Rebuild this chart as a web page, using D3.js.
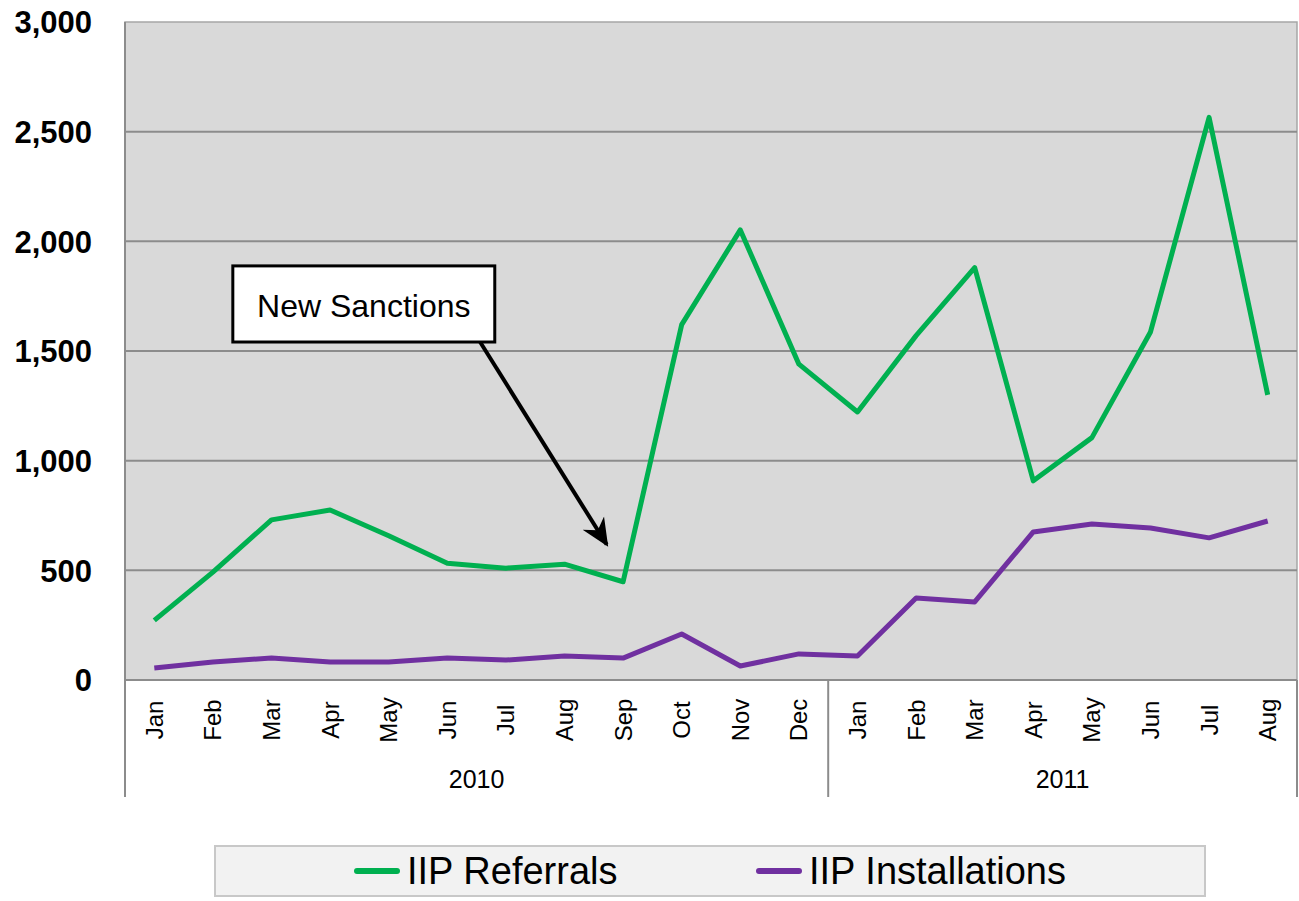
<!DOCTYPE html>
<html>
<head>
<meta charset="utf-8">
<script src="https://cdn.jsdelivr.net/npm/d3@7/dist/d3.min.js"></script>
<style>
  body { margin: 0; background: #fff; }
  svg { display: block; }
  text { font-family: "Liberation Sans", Arial, sans-serif; }
</style>
</head>
<body>
<svg id="chart" width="1299" height="901"></svg>
<script>
const months = ["Jan","Feb","Mar","Apr","May","Jun","Jul","Aug","Sep","Oct","Nov","Dec",
                "Jan","Feb","Mar","Apr","May","Jun","Jul","Aug"];
const years = [{label: "2010", start: 0, end: 11}, {label: "2011", start: 12, end: 19}];
const referrals = [272, 492, 730, 775, 658, 532, 510, 528, 448, 1620, 2052, 1440,
                   1222, 1570, 1880, 908, 1105, 1587, 2565, 1300];
const installations = [55, 82, 100, 82, 82, 100, 91, 109, 100, 210, 64, 119,
                       109, 374, 356, 675, 711, 693, 648, 725];
const yTicks = [0, 500, 1000, 1500, 2000, 2500, 3000];
const seriesNames = ["IIP Referrals", "IIP Installations"];
const seriesColors = ["#00b050", "#7030a0"];
const annotationText = "New Sanctions";

const svg = d3.select("#chart");
const L = 125, R = 1297, T = 22, B = 680;

const xi = d3.scaleLinear().domain([-0.5, months.length - 0.5]).range([L, R]);
const y = d3.scaleLinear().domain([0, 3000]).range([B, T]);

// plot background
svg.append("rect").attr("x", L).attr("y", T).attr("width", R - L).attr("height", B - T)
  .attr("fill", "#d9d9d9").attr("stroke", "#a6a6a6").attr("stroke-width", 1.5);

// gridlines
svg.append("g").selectAll("line").data(yTicks.filter(d => d > 0 && d < 3000)).join("line")
  .attr("x1", L).attr("x2", R).attr("y1", d => y(d)).attr("y2", d => y(d))
  .attr("stroke", "#8c8c8c").attr("stroke-width", 2);

// y axis labels
const yAxis = d3.axisLeft(y).tickValues(yTicks).tickFormat(d3.format(",")).tickSize(0).tickPadding(0);
const gy = svg.append("g").attr("transform", `translate(92,0)`).call(yAxis);
gy.select(".domain").remove();
gy.selectAll("text").attr("font-size", 31).attr("font-weight", "bold").attr("fill", "#000")
  .attr("font-family", '"Liberation Sans", Arial, sans-serif').attr("dy", "0.35em");

// axis lines
svg.append("line").attr("x1", L).attr("x2", L).attr("y1", T).attr("y2", 797)
  .attr("stroke", "#8c8c8c").attr("stroke-width", 2);
svg.append("line").attr("x1", L).attr("x2", R).attr("y1", B).attr("y2", B)
  .attr("stroke", "#8c8c8c").attr("stroke-width", 2);
// year separators
svg.append("g").selectAll("line").data(years).join("line")
  .attr("x1", d => xi(d.end + 0.5)).attr("x2", d => xi(d.end + 0.5))
  .attr("y1", B).attr("y2", 797).attr("stroke", "#8c8c8c").attr("stroke-width", 2);

// month labels
svg.append("g").selectAll("text").data(months).join("text")
  .attr("transform", (d, i) => `translate(${xi(i)},720) rotate(-90)`)
  .attr("text-anchor", "middle").attr("dominant-baseline", "central")
  .attr("font-size", 24).attr("fill", "#000").text(d => d);

// year labels
svg.append("g").selectAll("text").data(years).join("text")
  .attr("x", d => (xi(d.start - 0.5) + xi(d.end + 0.5)) / 2).attr("y", 788)
  .attr("text-anchor", "middle").attr("font-size", 25).attr("fill", "#000").text(d => d.label);

// lines
const line = d3.line().x((d, i) => xi(i)).y(d => y(d));
[referrals, installations].forEach((s, k) => {
  svg.append("path").datum(s).attr("d", line).attr("fill", "none")
    .attr("stroke", seriesColors[k]).attr("stroke-width", 5).attr("stroke-linejoin", "round");
});

// annotation
const defs = svg.append("defs");
defs.append("marker").attr("id", "ah").attr("viewBox", "0 0 10 10").attr("refX", 9).attr("refY", 5)
  .attr("markerWidth", 7).attr("markerHeight", 7).attr("markerUnits", "strokeWidth").attr("orient", "auto")
  .append("path").attr("d", "M0,0.5 L10,5 L0,9.5 L3,5 Z").attr("fill", "#000");
svg.append("line")
  .attr("x1", xi(5.56)).attr("y1", y(1541)).attr("x2", xi(7.72)).attr("y2", y(618))
  .attr("stroke", "#000").attr("stroke-width", 4).attr("marker-end", "url(#ah)");
svg.append("rect").attr("x", xi(1.34)).attr("y", y(1888))
  .attr("width", xi(5.81) - xi(1.34)).attr("height", y(1541) - y(1888))
  .attr("fill", "#fff").attr("stroke", "#000").attr("stroke-width", 3);
svg.append("text").attr("x", (xi(1.34) + xi(5.81)) / 2).attr("y", 317)
  .attr("text-anchor", "middle").attr("font-size", 32).attr("fill", "#000").text(annotationText);

// legend
svg.append("rect").attr("x", 215).attr("y", 846).attr("width", 990).attr("height", 50)
  .attr("fill", "#f2f2f2").attr("stroke", "#c8c8c8").attr("stroke-width", 2);
const legX = [357, 759];
seriesNames.forEach((n, k) => {
  svg.append("line").attr("x1", legX[k]).attr("x2", legX[k] + 40).attr("y1", 871).attr("y2", 871)
    .attr("stroke", seriesColors[k]).attr("stroke-width", 6).attr("stroke-linecap", "round");
  svg.append("text").attr("x", legX[k] + 50).attr("y", 884).attr("font-size", 38)
    .attr("fill", "#000").text(n);
});
</script>
</body>
</html>
